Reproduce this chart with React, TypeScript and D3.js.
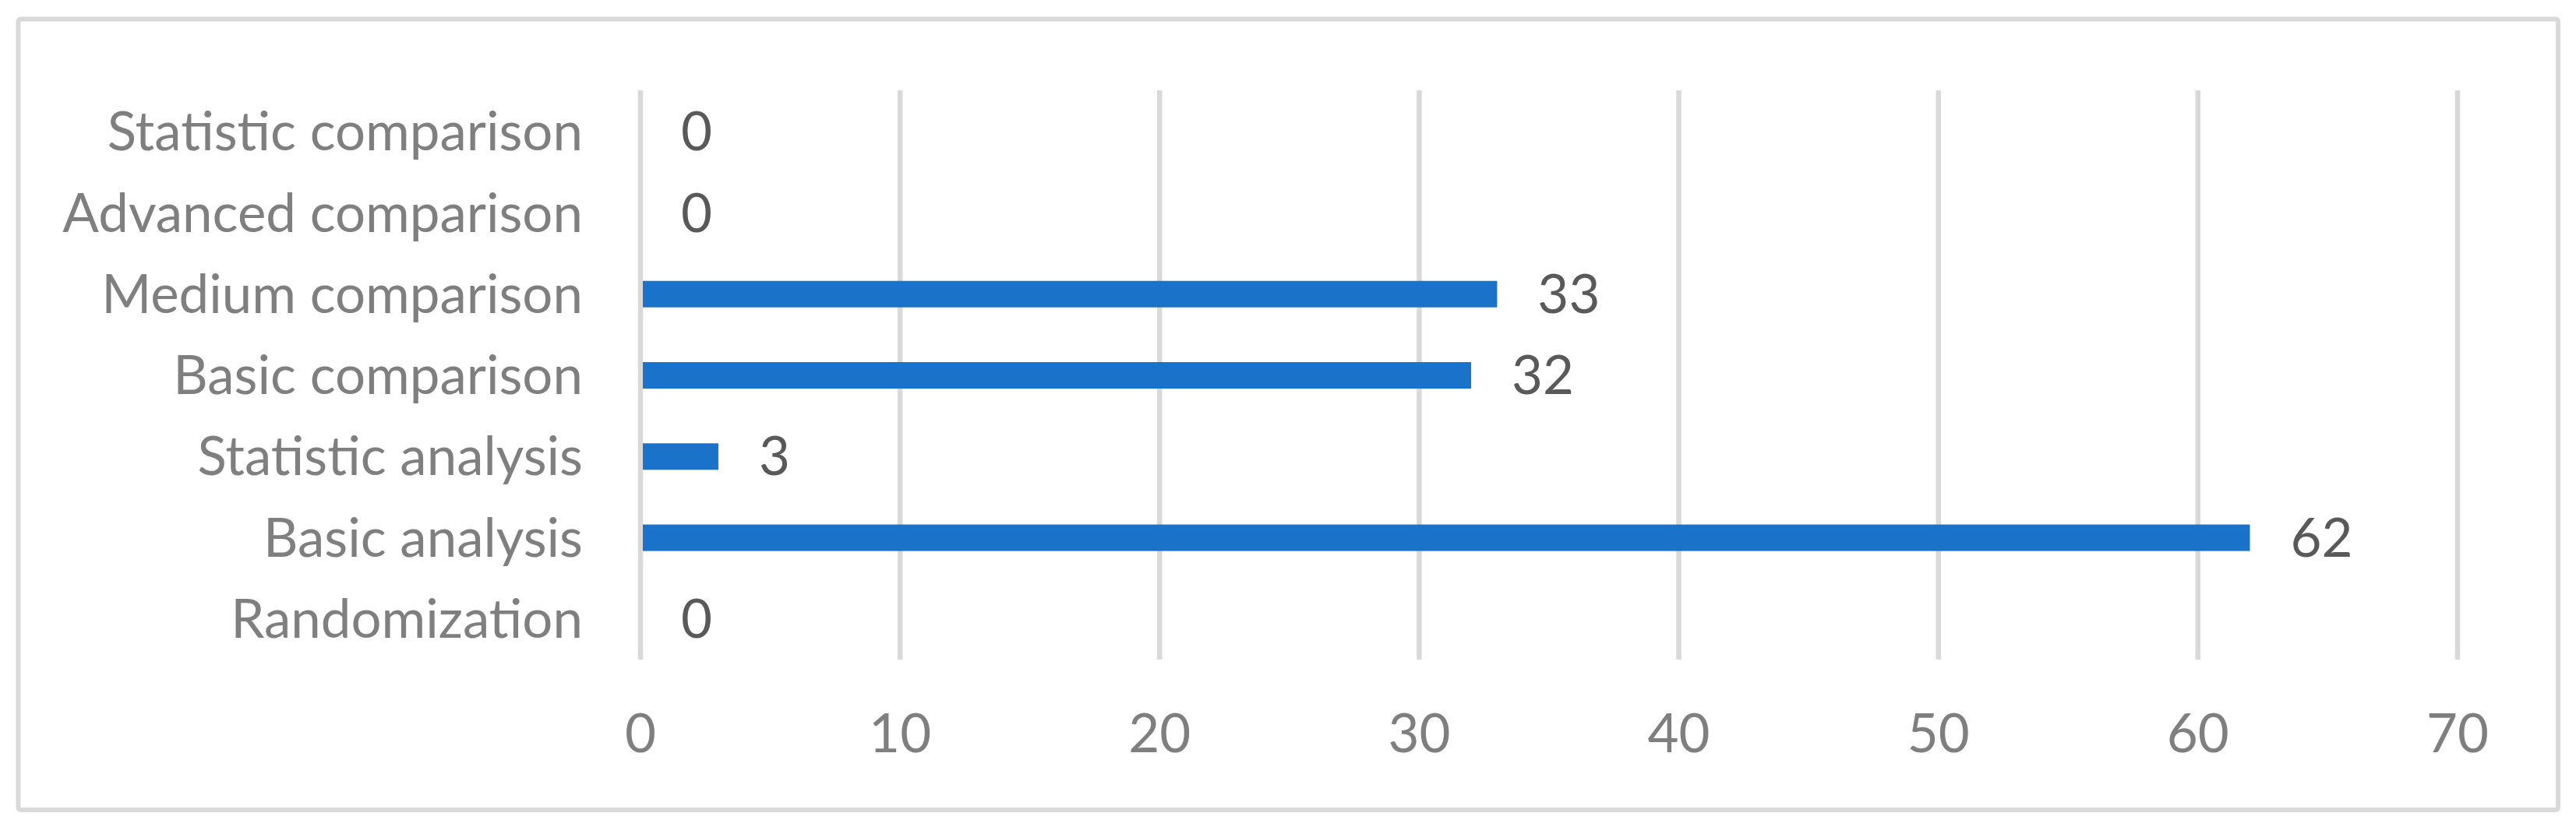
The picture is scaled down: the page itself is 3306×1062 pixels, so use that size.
import React, { useEffect } from 'react';
import * as d3 from 'd3';

// categories listed bottom to top, as in the chart
const categories = [
  'Randomization',
  'Basic analysis',
  'Statistic analysis',
  'Basic comparison',
  'Medium comparison',
  'Advanced comparison',
  'Statistic comparison',
];
const counts = [0, 62, 3, 32, 33, 0, 0];
const xTicks = [0, 10, 20, 30, 40, 50, 60, 70];

const W = 3306;
const H = 1062;
const FONT = 'Lato, "Open Sans", sans-serif';
const FS = 69;

export default function App() {
  useEffect(() => {
    document.body.style.margin = '0';
  }, []);

  const x = d3.scaleLinear().domain([0, 70]).range([822, 3154]);
  // top category first in the band domain
  const y = d3.scaleBand<string>()
    .domain([...categories].reverse())
    .range([117, 847])
    .paddingInner(0)
    .paddingOuter(0);
  const barH = 34;
  const mid = (c: string) => (y(c) as number) + y.bandwidth() / 2;

  return (
    <svg width={W} height={H} style={{ display: 'block' }}>
      <rect x={0} y={0} width={W} height={H} fill="#fff" />
      <rect x={23.5} y={24.5} width={3283 - 23.5} height={1040 - 24.5}
        fill="#fff" stroke="#d9d9d9" strokeWidth={6} rx={3} />

      {/* vertical gridlines */}
      {xTicks.map(t => (
        <line key={'g' + t} x1={x(t)} x2={x(t)} y1={116} y2={847}
          stroke="#d9d9d9" strokeWidth={6.5} />
      ))}

      {/* bars */}
      {categories.map((c, i) => (
        <rect key={'b' + c}
          x={x(0) + 3}
          y={mid(c) - barH / 2}
          width={Math.max(0, x(counts[i]) - x(0) - 3)}
          height={counts[i] > 0 ? barH : 0}
          fill="#1A73C8" />
      ))}

      {/* data labels */}
      {categories.map((c, i) => (
        <text key={'d' + c}
          x={x(counts[i]) + 52}
          y={mid(c)}
          dy="0.35em"
          fontFamily={FONT} fontSize={FS} fill="#595959">
          {counts[i]}
        </text>
      ))}

      {/* category labels */}
      {categories.map(c => (
        <text key={'c' + c}
          x={748}
          y={mid(c)}
          dy="0.35em" textAnchor="end"
          fontFamily={FONT} fontSize={FS} fill="#7f7f7f">
          {c}
        </text>
      ))}

      {/* x tick labels */}
      {xTicks.map(t => (
        <text key={'t' + t} x={x(t)} y={942} dy="0.35em" textAnchor="middle"
          fontFamily={FONT} fontSize={FS} fill="#7f7f7f">
          {t}
        </text>
      ))}
    </svg>
  );
}
